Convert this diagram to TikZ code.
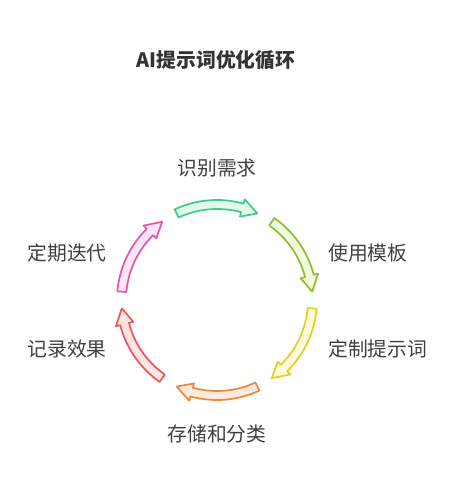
\documentclass[tikz,border=0pt]{standalone}
\usepackage{fontspec}
\setmainfont{Noto Sans CJK SC}
\definecolor{txtgray}{HTML}{404040}
\definecolor{titlegray}{HTML}{333333}
\definecolor{greenline}{HTML}{3FC98A}
\definecolor{greenfill}{HTML}{E2FAEC}
\definecolor{limeline}{HTML}{8DBE32}
\definecolor{limefill}{HTML}{F1FBDF}
\definecolor{yellowline}{HTML}{E4CF1E}
\definecolor{yellowfill}{HTML}{FFFBDC}
\definecolor{orangeline}{HTML}{E8893C}
\definecolor{orangefill}{HTML}{FFEBDD}
\definecolor{redline}{HTML}{E8585C}
\definecolor{redfill}{HTML}{FFE4E4}
\definecolor{pinkline}{HTML}{DF57A9}
\definecolor{pinkfill}{HTML}{FFE6F4}

% one curved block arrow of the cycle: start angle, end angle, line, fill
\newcommand{\cyclearrow}[4]{%
  \pgfmathsetmacro\headbase{#2+9.6}
  \draw[arrowbody,draw=#3,fill=#4] (#1:91) arc[start angle=#1,end angle=\headbase,radius=91]
    -- (\headbase:86.5) -- (#2:95.5) -- (\headbase:104.5) -- (\headbase:100)
    arc[start angle=\headbase,end angle=#1,radius=100] -- cycle;
}

\begin{document}
\begin{tikzpicture}
  [x=1pt,y=1pt,
   arrowbody/.style={line width=1.7pt,line join=round},
   steplabel/.style={text=txtgray,font=\fontsize{19.8}{22}\selectfont,inner sep=0pt}]
  \useasboundingbox (-217,-194) rectangle (241,300);

  \node[text=titlegray,font=\fontsize{19.8}{22}\selectfont\bfseries] (title) at (-1,240) {AI提示词优化循环};

  \cyclearrow{115}{65}{greenline}{greenfill}
  \cyclearrow{55}{5}{limeline}{limefill}
  \cyclearrow{-5}{-55}{yellowline}{yellowfill}
  \cyclearrow{-65}{-115}{orangeline}{orangefill}
  \cyclearrow{-125}{-175}{redline}{redfill}
  \cyclearrow{175}{125}{pinkline}{pinkfill}

  \node[steplabel] (identify) at (0,132) {识别需求};
  \node[steplabel,anchor=west] (template) at (111,47) {使用模板};
  \node[steplabel,anchor=west] (custom) at (111,-49) {定制提示词};
  \node[steplabel] (store) at (0,-134) {存储和分类};
  \node[steplabel,anchor=east] (record) at (-110,-49) {记录效果};
  \node[steplabel,anchor=east] (iterate) at (-110,47) {定期迭代};

\end{tikzpicture}
\end{document}
